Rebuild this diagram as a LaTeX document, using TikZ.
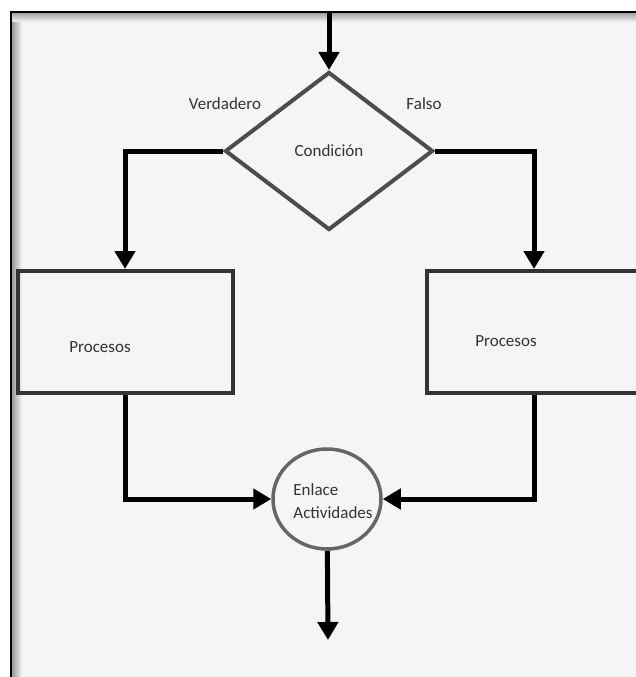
\documentclass[tikz,border=0pt]{standalone}
\usepackage{fontspec}
\setmainfont{Carlito}
\usetikzlibrary{shapes.geometric,arrows.meta}

\begin{document}
\begin{tikzpicture}[x=1pt,y=-1pt,
  flecha/.style={line width=5pt,-{Triangle[width=20pt,length=18pt]}},
  caja/.style={draw=black!80,line width=4pt,minimum width=215pt,minimum height=122pt},
  every node/.style={text=black!80,font=\fontsize{17}{23}\selectfont}]
\useasboundingbox (0,0) rectangle (635,677);
\fill[white] (0,0) rectangle (635,677);
\fill[black!4] (10,11) rectangle (640,680);
% sombra del marco
\shade[left color=black!40,right color=black!4] (12,12) rectangle (22,680);
\shade[top color=black!40,bottom color=black!4] (12,12) rectangle (640,22);
\draw[black,line width=2pt] (11,680) -- (11,12) -- (640,12);

\node[diamond,draw=black!70,line width=4pt,minimum width=208pt,minimum height=158pt,inner sep=0pt] (cond) at (329,151) {Condición};
\node[caja] (izq) at (125,332) {};
\node[caja] (der) at (534,332) {};
\node[ellipse,draw=black!60,line width=3.5pt,minimum width=108pt,minimum height=100pt,inner sep=0pt] (enl) at (327,499) {};

\node (verd) at (225,104) {Verdadero};
\node (fal) at (424,104) {Falso};
\node (proc1) at (100,347) {Procesos};
\node (proc2) at (506,341) {Procesos};
\node[align=left] (enltxt) at (333,501) {Enlace\\Actividades};

\coordinate (arriba) at (329,12);
\coordinate (abajo) at (328,640);

\draw[flecha] (arriba) -- (cond);
\draw[flecha] (cond.west) -| (izq.north);
\draw[flecha] (cond.east) -| (der.north);
\draw[flecha] (izq.south) |- (enl.west);
\draw[flecha] (der.south) |- (enl.east);
\draw[flecha] (enl) -- (abajo);
\end{tikzpicture}
\end{document}
